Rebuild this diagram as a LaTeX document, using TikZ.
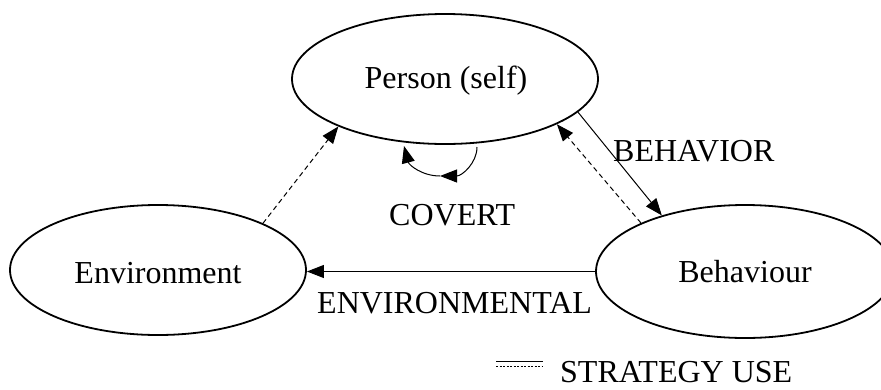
\documentclass[tikz,border=0pt]{standalone}
\usepackage{fontspec}
\setmainfont{Liberation Serif}
\usetikzlibrary{shapes.geometric,arrows.meta}
\begin{document}
\begin{tikzpicture}[x=1pt,y=-1pt,
  ell/.style={draw,ellipse,line width=1.8pt,inner sep=0pt},
  txt/.style={font=\fontsize{32}{36}\selectfont,inner sep=0pt,anchor=base},
  lbl/.style={font=\fontsize{32}{36}\selectfont,inner sep=0pt,anchor=base west},
  arr/.style={line width=1pt,-{Triangle[length=17pt,width=13pt]}},
  dsh/.style={arr,dash pattern=on 5pt off 3.5pt},
  legsolid/.style={line width=0.8pt},
  legdash/.style={line width=0.8pt,dash pattern=on 2pt off 1.5pt}]
\useasboundingbox (0,0) rectangle (881,389);
% ellipses
\node[ell,minimum width=306pt,minimum height=130pt] (person) at (445,79) {};
\node[ell,minimum width=296pt,minimum height=130pt] (env) at (158,270) {};
\node[ell,minimum width=298pt,minimum height=133pt] (beh) at (745,271.5) {};
% texts
\node[txt] (ptxt) at (446,88) {Person (self)};
\node[txt] (etxt) at (158,283) {Environment};
\node[txt] (btxt) at (745,282) {Behaviour};
\node[lbl] (behavior) at (613,161) {BEHAVIOR};
\node[lbl] (covert) at (389,225) {COVERT};
\node[lbl] (environmental) at (317,313) {ENVIRONMENTAL};
\node[lbl] (strategy) at (560,382) {STRATEGY USE};
% connectors
\draw[dsh] (env.24) -- (person.-156.6);
\draw[arr] (person.-14.5) -- (beh.146.2);
\draw[dsh] (beh.155.2) -- (person.-22.3);
\draw[arr] (beh.west) -- (beh.west -| env.east);
% self loop
\coordinate (l1) at (477,147);
\coordinate (lm) at (440,176);
\coordinate (l2) at (404,146);
\draw[arr] (l1) .. controls (477,163) and (462,176) .. (lm);
\draw[arr] (lm) .. controls (422,176) and (409,165) .. (l2);
% legend
\coordinate (s1) at (496,361);
\coordinate (s2) at (543,361);
\coordinate (d1) at (496,366);
\coordinate (d2) at (543,366);
\draw[legsolid] (s1) -- (s2);
\draw[legdash] (d1) -- (d2);
\end{tikzpicture}
\end{document}
